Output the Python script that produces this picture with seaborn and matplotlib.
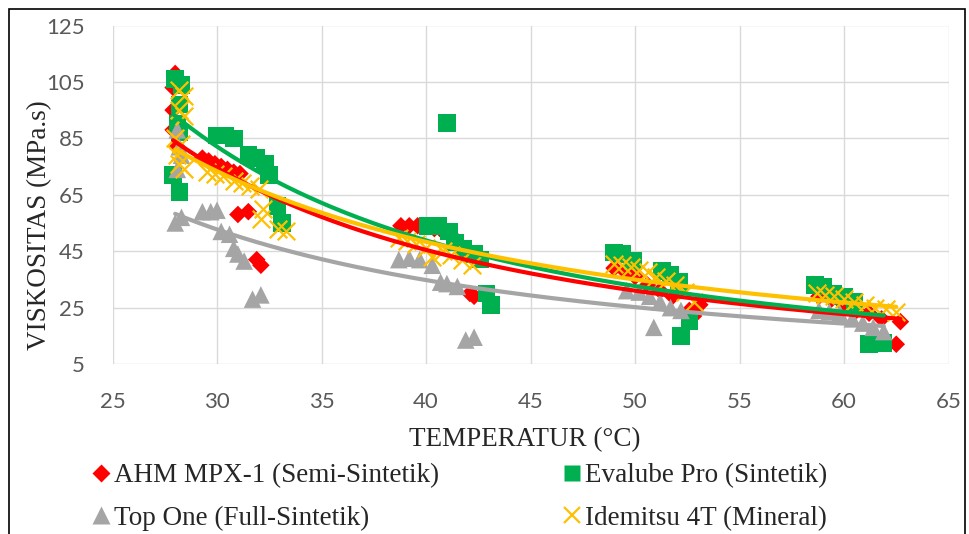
import numpy as np
import pandas as pd
import matplotlib
matplotlib.use("Agg")
import matplotlib.pyplot as plt
from matplotlib.lines import Line2D
from matplotlib.patches import Rectangle
import seaborn as sns

# data (temperature in C, viscosity in MPa.s)
ahm_t = [28.0, 27.9, 27.9, 27.9, 28.1, 29.3, 29.6, 29.9, 30.2, 30.5, 30.8, 31.1,
         31.0, 31.5, 31.9, 32.1,
         38.8, 39.2, 39.6, 40.0, 40.4, 40.8, 41.3, 42.1, 42.3,
         49.0, 49.5, 50.0, 50.6, 51.2, 51.8, 52.6, 53.1, 52.8,
         58.8, 59.4, 60.0, 60.6, 61.2, 61.8, 62.7, 62.5]
ahm_v = [108, 103, 95, 88, 82, 78, 77, 76, 75, 74, 73, 72.5,
         58, 59, 42, 40,
         54, 54, 54, 54, 53, 52, 50, 30, 29,
         39, 38, 36, 33, 31, 29, 24, 26, 22,
         29, 28, 26, 24, 23, 21, 20, 12]

eva_t = [28.0, 28.3, 28.2, 28.1, 28.2, 27.9, 28.2,
         30.0, 30.4, 30.8, 31.5, 31.9, 32.3, 32.5, 32.9, 33.1,
         41.0, 40.1, 40.6, 41.1, 41.4, 41.8, 42.3, 42.6, 42.9, 43.1,
         49.0, 49.4, 49.9, 51.3, 51.7, 52.1, 52.6, 52.2,
         58.6, 59.0, 59.5, 60.0, 60.5, 61.2, 61.9]
eva_v = [106, 104, 97, 90, 87, 72, 66,
         86, 86, 85, 79, 78, 76, 72, 61, 55,
         90.5, 54, 54, 52, 48, 46, 44, 42, 30, 26,
         44.5, 44, 41.5, 38, 36.5, 34, 20, 15,
         33, 32.5, 30, 29, 27, 12, 12.5]

top_t = [28.0, 28.3, 28.1, 28.2, 28.1, 28.3, 29.3, 29.7, 30.0, 30.2, 30.6, 30.8,
         31.0, 31.3, 31.7, 32.1,
         38.7, 39.2, 39.7, 40.3, 40.7, 41.0, 41.5, 41.9, 42.3,
         49.6, 50.2, 50.7, 51.2, 51.7, 52.2, 50.9,
         58.8, 59.3, 59.8, 60.4, 60.9, 61.4, 61.9]
top_v = [55, 57, 74, 82, 88, 79, 59, 59, 59.5, 52, 51, 46,
         44, 41.5, 28, 29.5,
         42, 42.5, 42, 40, 34, 33.5, 32.5, 13.5, 14.5,
         31, 30.5, 29, 27, 25, 24, 18,
         24, 23.5, 23, 21, 19.5, 18, 16.5]

ide_t = [28.2, 28.4, 28.2, 28.4, 28.0, 28.3, 28.1, 28.2, 28.4,
         29.5, 29.9, 30.3, 30.8, 31.2, 31.6, 32.0, 32.2, 32.1, 32.9, 33.3,
         38.7, 39.1, 39.5, 40.0, 40.3, 40.8, 41.2, 41.7, 42.2,
         49.0, 49.4, 49.8, 50.2, 50.6, 51.0, 51.5, 51.9, 52.4, 52.8,
         58.7, 59.1, 59.5, 60.0, 60.5, 61.0, 61.5, 62.0, 62.5]
ide_v = [102, 100, 95, 93, 85, 83, 79, 76, 74,
         73, 72.5, 71.5, 70, 69, 68, 67, 60, 56.5, 53, 52,
         49.5, 48.5, 47.5, 46, 43, 45, 43.5, 42, 40,
         40.5, 40, 39.5, 38.5, 37.5, 36, 34.5, 33, 30.5, 27,
         30, 29.5, 29, 28, 27, 26, 25, 24.5, 23.5]

labels = ["AHM MPX-1 (Semi-Sintetik)", "Evalube Pro (Sintetik)",
          "Top One (Full-Sintetik)", "Idemitsu 4T (Mineral)"]
colors = ["#FF0000", "#00B050", "#A5A5A5", "#FFC000"]

series = [(ahm_t, ahm_v), (eva_t, eva_v), (top_t, top_v), (ide_t, ide_v)]

sns.set_style("white")
serif = ["Liberation Serif", "DejaVu Serif"]

fig = plt.figure(figsize=(9.69, 5.34), dpi=100)
ax = fig.add_axes([112.5 / 969, 1 - 364 / 534, 836 / 969, 338.5 / 534])

# markers
styles = [dict(marker="D", s=80), dict(marker="s", s=160),
          dict(marker="^", s=160), dict(marker="x", s=160, linewidth=1.6)]
for (t, v), lab, col, st in zip(series, labels, colors, styles):
    df = pd.DataFrame({"t": t, "v": v})
    kw = dict(st)
    if kw["marker"] != "x":
        kw["edgecolor"] = "none"
    sns.scatterplot(data=df, x="t", y="v", color=col, ax=ax, legend=False,
                    zorder=3, **kw)

# power trendlines (like Excel)
for (t, v), col in zip(series, colors):
    t = np.array(t)
    v = np.array(v)
    b, a = np.polyfit(np.log(t), np.log(v), 1)
    xs = np.linspace(t.min(), t.max(), 200)
    sns.lineplot(x=xs, y=np.exp(a) * xs ** b, color=col, lw=3, ax=ax,
                 zorder=4)

ax.set_xlim(25, 65)
ax.set_ylim(5, 125)
ax.set_xticks(range(25, 66, 5))
ax.set_yticks(range(5, 126, 20))
ax.grid(True, color="#D9D9D9", lw=1)
for sp in ax.spines.values():
    sp.set_visible(False)
ax.tick_params(length=0, labelsize=16, colors="#595959", pad=20)
for lab in ax.get_xticklabels() + ax.get_yticklabels():
    lab.set_fontfamily(["Lato", "DejaVu Sans"])
ax.set_xlabel("")
ax.set_ylabel("")

fig.text(525 / 969, 1 - 440 / 534, "TEMPERATUR (°C)", fontsize=19.5,
         family=serif, ha="center", va="center")
fig.text(40 / 969, 1 - 225 / 534, "VISKOSITAS (MPa.s)", fontsize=19.5,
         family=serif, ha="center", va="center", rotation=90)

handles = [
    Line2D([], [], ls="none", marker="D", ms=9, color=colors[0], mec="none"),
    Line2D([], [], ls="none", marker="^", ms=13, color=colors[2], mec="none"),
    Line2D([], [], ls="none", marker="s", ms=12, color=colors[1], mec="none"),
    Line2D([], [], ls="none", marker="x", ms=12, mew=1.6, color=colors[3]),
]
leg_labels = [labels[0], labels[2], labels[1], labels[3]]
fig.legend(handles, leg_labels, ncol=2, loc="upper left",
           bbox_to_anchor=(92 / 969, 1 - 463 / 534), frameon=False,
           prop={"family": serif, "size": 19.5}, handlelength=0.65,
           handletextpad=0.15, columnspacing=4.6, labelspacing=0.65,
           borderpad=0, borderaxespad=0)

fig.patches.append(Rectangle((9 / 969, -0.05), 956 / 969, 1.05 - 9 / 534,
                             transform=fig.transFigure, fill=False,
                             edgecolor="black", lw=1.2))

fig.savefig("out.png", dpi=100)
